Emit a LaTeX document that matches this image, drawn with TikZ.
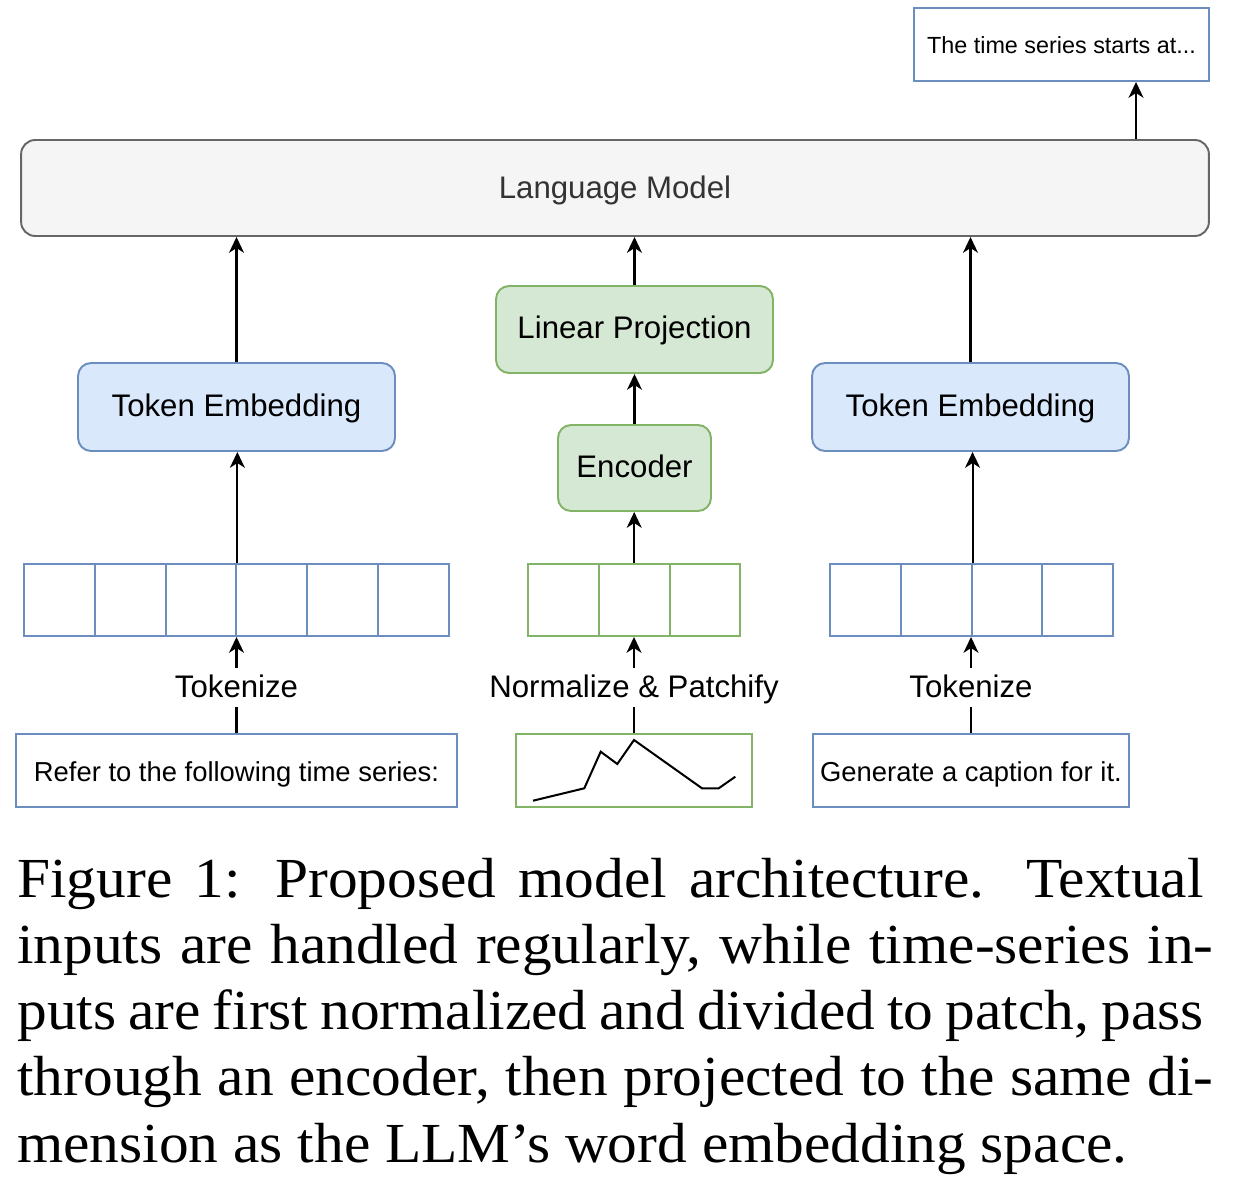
\documentclass[tikz,border=0pt]{standalone}
\usepackage{fontspec}
\setmainfont{Liberation Serif}
\newfontfamily\dfont{Liberation Sans}
\newfontfamily\capfont[FakeStretch=1.05]{Liberation Serif}
\usetikzlibrary{arrows.meta}
\definecolor{lmfill}{HTML}{F5F5F5}
\definecolor{lmdraw}{HTML}{666666}
\definecolor{lmtext}{HTML}{333333}
\definecolor{bfill}{HTML}{DAE8FC}
\definecolor{bdraw}{HTML}{6C8EBF}
\definecolor{gfill}{HTML}{D5E8D4}
\definecolor{gdraw}{HTML}{82B366}
\begin{document}
\begin{tikzpicture}[x=0.02cm,y=-0.02cm,
  basebox/.style={inner sep=0pt, line width=1.1pt, align=center,
    font=\dfont\fontsize{17.75pt}{21pt}\selectfont, text height=14.2pt, text depth=3.55pt},
  lmbox/.style={basebox, rounded corners=8pt, draw=lmdraw, fill=lmfill, text=lmtext, text height=14.7pt, text depth=3.05pt},
  bluebox/.style={basebox, rounded corners=7.4pt, draw=bdraw, fill=bfill},
  greenbox/.style={basebox, rounded corners=7.4pt, draw=gdraw, fill=gfill},
  inbox/.style={inner sep=0pt, line width=1.1pt, fill=white, minimum height=1.46cm,
    font=\dfont\fontsize{15.6pt}{18pt}\selectfont, text height=14pt, text depth=1.2pt},
  outbox/.style={inner sep=0pt, line width=1.1pt, fill=white, draw=bdraw,
    font=\dfont\fontsize{13.3pt}{16pt}\selectfont, text height=11.5pt, text depth=1.3pt},
  cellb/.style={inner sep=0pt, line width=1.1pt, draw=bdraw, fill=white, minimum width=1.416cm, minimum height=1.44cm},
  cellg/.style={inner sep=0pt, line width=1.1pt, draw=gdraw, fill=white, minimum width=1.416cm, minimum height=1.44cm},
  lab/.style={inner sep=0pt, anchor=base, font=\dfont\fontsize{17.75pt}{21pt}\selectfont, text height=16.4pt, text depth=5.7pt},
  conn/.style={line width=1.15pt, black},
  arr/.style={conn, -{Stealth[length=9pt,width=8.5pt,inset=2.7pt]}},
  capl/.style={inner sep=0pt, anchor=base west, font=\capfont\fontsize{32.2pt}{37.5pt}\selectfont}
]
\useasboundingbox (0,0) rectangle (1238,1190);

% main blocks
\node[lmbox, minimum width=23.76cm, minimum height=1.92cm] (lm) at (615,188) {Language Model};
\node[outbox, minimum width=5.9cm, minimum height=1.46cm] (out) at (1061.5,44.5) {The time series starts at...};
\node[bluebox, minimum width=6.34cm, minimum height=1.76cm] (teL) at (236.5,407) {Token Embedding};
\node[bluebox, minimum width=6.34cm, minimum height=1.76cm] (teR) at (970.5,407) {Token Embedding};
\node[greenbox, minimum width=5.54cm, minimum height=1.74cm] (lp) at (634.5,329.5) {Linear Projection};
\node[greenbox, minimum width=3.06cm, minimum height=1.72cm] (enc) at (634.5,468) {Encoder};

% token cells
\foreach \i in {0,...,5} \node[cellb] (tl\i) at (24+70.8*\i+35.4,600) {};
\foreach \i in {0,...,2} \node[cellg] (tp\i) at (528+70.8*\i+35.4,600) {};
\foreach \i in {0,...,3} \node[cellb] (tr\i) at (830+70.8*\i+35.4,600) {};

% inputs
\node[inbox, draw=bdraw, minimum width=8.82cm] (inL) at (236.5,770.5) {Refer to the following time series:};
\node[inbox, draw=gdraw, minimum width=4.72cm] (inM) at (634,770.5) {};
\node[inbox, draw=bdraw, minimum width=6.32cm] (inR) at (971,770.5) {Generate a caption for it.};
\draw[conn] (533,800.7) -- (584.3,788.3) -- (600.7,751.7) -- (617.3,764) -- (634,740) -- (702,788.3) -- (718.7,788.3) -- (735.3,776.7);

% labels
\node[lab] (tkL) at (236.5,697) {Tokenize};
\node[lab] (tkM) at (634,697) {Normalize \& Patchify};
\node[lab] (tkR) at (971,697) {Tokenize};

% connectors
\draw[conn] (inL.north) -- (tkL.south);
\draw[arr] (tkL.north) -- (tkL.north |- tl2.south east);
\draw[conn] (inM.north) -- (tkM.south);
\draw[arr] (tkM.north) -- (tkM.north |- tp1.south);
\draw[conn] (inR.north) -- (tkR.south);
\draw[arr] (tkR.north) -- (tkR.north |- tr1.south east);

\draw[arr] (tl2.north east) -- (tl2.north east |- teL.south);
\draw[arr] (tp1.north) -- (tp1.north |- enc.south);
\draw[arr] (tr1.north east) -- (tr1.north east |- teR.south);

\draw[arr] (enc.north) -- (lp.south);
\draw[arr] (lp.north) -- (lp.north |- lm.south);
\draw[arr] (teL.north) -- (teL.north |- lm.south);
\draw[arr] (teR.north) -- (teR.north |- lm.south);

\coordinate (ox) at (1136,0);
\draw[arr] (lm.north -| ox) -- (out.south -| ox);

% caption
\node[capl] (c1) at (17,897) {\makebox[675.2pt][s]{Figure 1: Proposed model architecture. Textual}};
\node[capl] (c2) at (17,963.3) {\makebox[680.9pt][s]{inputs are handled regularly, while time-series in-}};
\node[capl] (c3) at (17,1029.5) {\makebox[675.2pt][s]{puts are first normalized and divided to patch, pass}};
\node[capl] (c4) at (17,1095.8) {\makebox[680.9pt][s]{through an encoder, then projected to the same di-}};
\node[capl] (c5) at (17,1162) {mension as the LLM’s word embedding space.};
\end{tikzpicture}
\end{document}
